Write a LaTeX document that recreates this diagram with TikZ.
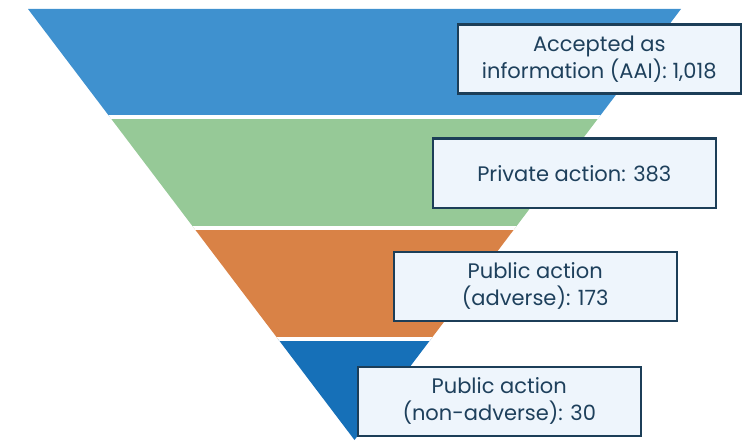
\documentclass[tikz,border=0pt]{standalone}
\usepackage{fontspec}
\setmainfont{Poppins}
\definecolor{bandA}{RGB}{63,145,207}
\definecolor{bandB}{RGB}{150,201,151}
\definecolor{bandC}{RGB}{217,130,70}
\definecolor{bandD}{RGB}{22,112,184}
\definecolor{boxfill}{RGB}{238,245,252}
\definecolor{boxline}{RGB}{28,62,88}
\definecolor{boxtext}{RGB}{30,64,92}
\tikzset{
  lbl/.style={draw=boxline, line width=2.5pt, fill=boxfill, text=boxtext,
    minimum width=283pt, minimum height=69pt, inner sep=0pt, align=center,
    font=\fontsize{21}{27}\selectfont, anchor=north west},
  gap/.style={draw=white, line width=4pt}
}
\begin{document}
\begin{tikzpicture}[x=1pt,y=-1pt]
\useasboundingbox (0,0) rectangle (750,441);
\coordinate (TL) at (28,9);
\coordinate (TR) at (681,9);
\coordinate (AP) at (354.5,440);
\begin{scope}
  \clip (TL) -- (TR) -- (AP) -- cycle;
  \fill[bandA] (0,0) rectangle (750,117);
  \fill[bandB] (0,117) rectangle (750,228);
  \fill[bandC] (0,228) rectangle (750,339);
  \fill[bandD] (0,339) rectangle (750,441);
  \draw[gap] (0,117) -- (750,117);
  \draw[gap] (0,228) -- (750,228);
  \draw[gap] (0,339) -- (750,339);
\end{scope}
\node[lbl] (a) at (456.5,23.5) {Accepted as\\information (AAI): 1,018};
\node[lbl] (b) at (431.5,137.5) {Private action: 383};
\node[lbl] (c) at (392.5,250.5) {Public action\\(adverse): 173};
\node[lbl] (d) at (356.5,365.5) {Public action\\(non-adverse): 30};
\end{tikzpicture}
\end{document}
